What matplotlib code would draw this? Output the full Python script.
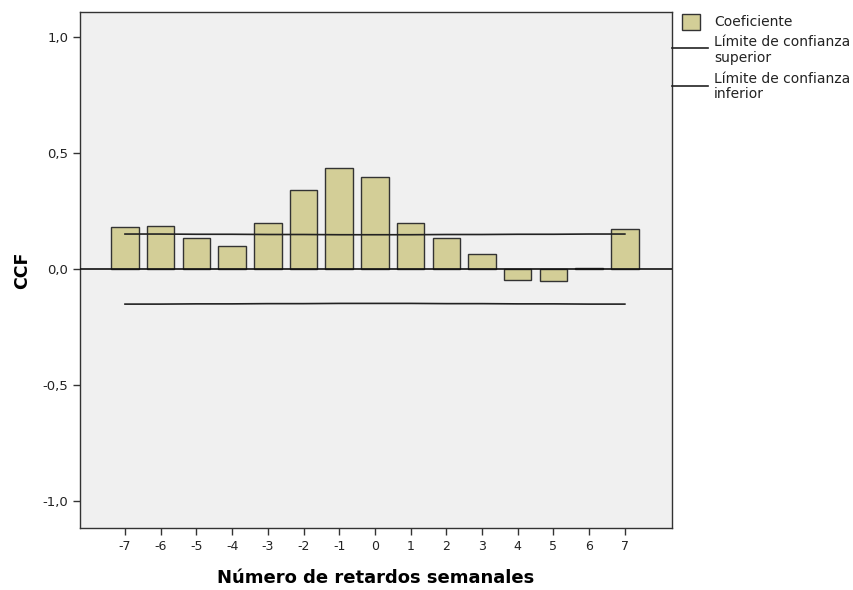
import matplotlib
matplotlib.use("Agg")
import matplotlib.pyplot as plt
from matplotlib.patches import Rectangle
from matplotlib.lines import Line2D

lags = [-7, -6, -5, -4, -3, -2, -1, 0, 1, 2, 3, 4, 5, 6, 7]
coef = [0.180, 0.184, 0.134, 0.098, 0.198, 0.340, 0.435, 0.397,
        0.198, 0.135, 0.065, -0.047, -0.050, 0.005, 0.172]
upper = [0.151, 0.151, 0.150, 0.150, 0.149, 0.149, 0.148, 0.148,
         0.148, 0.149, 0.149, 0.150, 0.150, 0.151, 0.151]
lower = [-u for u in upper]
yticks = [-1.0, -0.5, 0.0, 0.5, 1.0]
ytick_labels = ["-1,0", "-0,5", "0,0", "0,5", "1,0"]
legend_labels = ["Coeficiente", "Límite de confianza\nsuperior", "Límite de confianza\ninferior"]

plt.rcParams['font.family'] = ['DejaVu Sans']

W, H = 854, 590
fig = plt.figure(figsize=(8.54, 5.90), dpi=100)
ax = fig.add_axes([80/W, 1-528/H, (672-80)/W, (528-12)/H])
ax.set_facecolor('#f0f0f0')

bar_color = '#d3ce97'
line_color = '#222222'
ax.bar(lags, coef, width=0.77, color=bar_color, edgecolor='#333333', linewidth=1.0, zorder=2)
ax.plot(lags, upper, color=line_color, linewidth=1.2, zorder=3)
ax.plot(lags, lower, color=line_color, linewidth=1.2, zorder=3)
ax.axhline(0, color='#111111', linewidth=1.2, zorder=4)

ax.set_xlim(-8.26, 8.32)
ax.set_ylim(-1.116, 1.108)
ax.set_xticks(lags)
ax.set_xticklabels([str(l) for l in lags], fontsize=9)
ax.set_yticks(yticks)
ax.set_yticklabels(ytick_labels, fontsize=9.5)
ax.tick_params(axis='both', direction='out', length=5, width=1, color='#333333', labelcolor='#222222')
for s in ax.spines.values():
    s.set_color('#333333')
    s.set_linewidth(1.0)

ax.set_xlabel('Número de retardos semanales', fontsize=13, fontweight='bold', labelpad=12)
ax.set_ylabel('CCF', fontsize=12.5, fontweight='bold', labelpad=8)

# Legend drawn manually in figure pixel coordinates (outside the axes)
def fx(x):
    return x / W

def fy(y):
    return 1 - y / H

fig.add_artist(Rectangle((fx(682), fy(30)), 18/W, 16/H, transform=fig.transFigure,
                         facecolor=bar_color, edgecolor='#333333', linewidth=1.0))
fig.text(fx(714), fy(21.5), legend_labels[0], fontsize=10, va='center', ha='left', color='#222222')
for yline, ytext in [(48, 50), (85.5, 86.5)]:
    fig.add_artist(Line2D([fx(672), fx(708)], [fy(yline), fy(yline)], transform=fig.transFigure,
                          color=line_color, linewidth=1.2))
fig.text(fx(714), fy(50), legend_labels[1], fontsize=10, va='center', ha='left', color='#222222',
         linespacing=1.15)
fig.text(fx(714), fy(86.5), legend_labels[2], fontsize=10, va='center', ha='left', color='#222222',
         linespacing=1.15)

fig.savefig('out.png', dpi=100)
